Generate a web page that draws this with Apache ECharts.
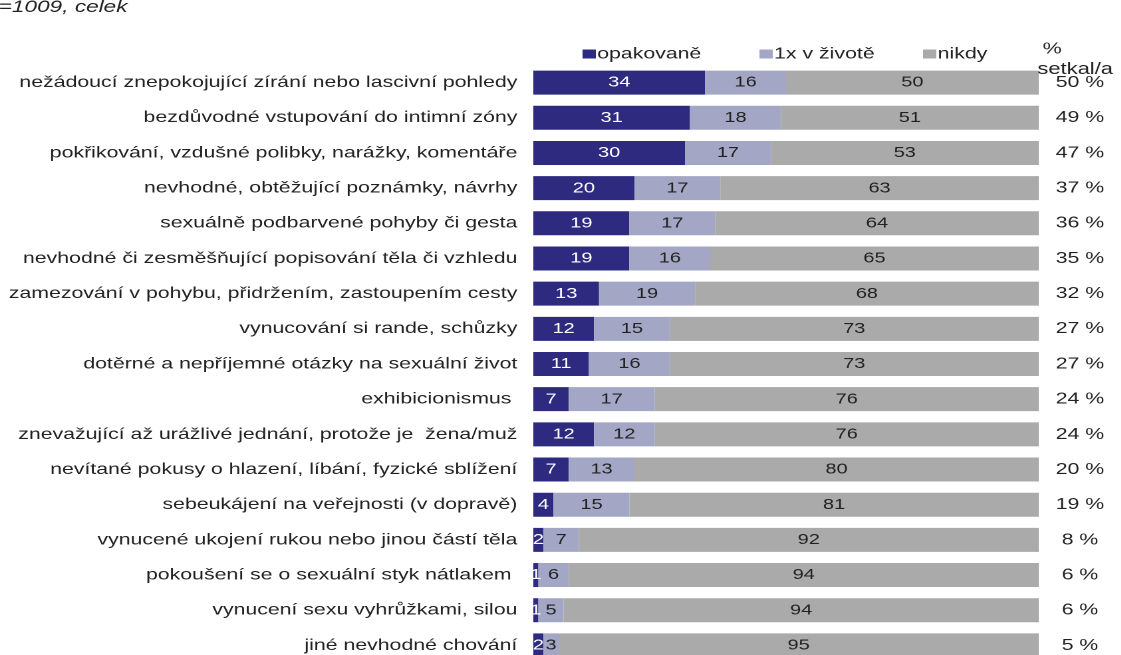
<!DOCTYPE html>
<html>
<head>
<meta charset="utf-8">
<script src="https://cdn.jsdelivr.net/npm/echarts@6/dist/echarts.min.js"></script>
<style>
  html, body { margin: 0; padding: 0; background: #fff; overflow: hidden; }
  /* the original graphic is stretched horizontally, so the chart is drawn narrow and widened */
  #main { width: 843px; height: 700px; transform: scaleX(1.33); transform-origin: 0 0; }
</style>
</head>
<body>
<div id="main"></div>
<script>
var categories = [
  'nežádoucí znepokojující zírání nebo lascivní pohledy',
  'bezdůvodné vstupování do intimní zóny',
  'pokřikování, vzdušné polibky, narážky, komentáře',
  'nevhodné, obtěžující poznámky, návrhy',
  'sexuálně podbarvené pohyby či gesta',
  'nevhodné či zesměšňující popisování těla či vzhledu',
  'zamezování v pohybu, přidržením, zastoupením cesty',
  'vynucování si rande, schůzky',
  'dotěrné a nepříjemné otázky na sexuální život',
  'exhibicionismus ',
  'znevažující až urážlivé jednání, protože je  žena/muž',
  'nevítané pokusy o hlazení, líbání, fyzické sblížení',
  'sebeukájení na veřejnosti (v dopravě)',
  'vynucené ukojení rukou nebo jinou částí těla',
  'pokoušení se o sexuální styk nátlakem ',
  'vynucení sexu vyhrůžkami, silou',
  'jiné nevhodné chování'
];
var opakovane = [34, 31, 30, 20, 19, 19, 13, 12, 11, 7, 12, 7, 4, 2, 1, 1, 2];
var jednou    = [16, 18, 17, 17, 17, 16, 19, 15, 16, 17, 12, 13, 15, 7, 6, 5, 3];
var nikdy     = [50, 51, 53, 63, 64, 65, 68, 73, 73, 76, 76, 80, 81, 92, 94, 94, 95];
var setkal    = [50, 49, 47, 37, 36, 35, 32, 27, 27, 24, 24, 20, 19, 8, 6, 6, 5];

var fontFam = '"Liberation Sans", Arial, sans-serif';
var myChart = echarts.init(document.getElementById('main'), null, { devicePixelRatio: 2 });

function barSeries(name, data, color, textColor) {
  return {
    name: name,
    type: 'bar',
    stack: 'total',
    barWidth: 24,
    data: data,
    itemStyle: { color: color },
    label: {
      show: true,
      position: 'inside',
      color: textColor,
      fontSize: 15,
      fontFamily: fontFam
    }
  };
}

var legendBase = {
  top: 41,
  icon: 'rect',
  itemWidth: 10,
  itemHeight: 9,
  itemGap: 5,
  textStyle: { fontSize: 16, color: '#222', fontFamily: fontFam, padding: [0, 0, 0, -4] }
};

var option = {
  animation: false,
  title: [
    { text: '=1009, celek', left: -1, top: -1, padding: 0,
      textStyle: { fontSize: 17, fontStyle: 'italic', fontWeight: 'normal', color: '#222', fontFamily: fontFam } },
    { text: '%', left: 779, top: 36,
      textStyle: { fontSize: 16, fontWeight: 'normal', color: '#222', fontFamily: fontFam } },
    { text: 'setkal/a', left: 775, top: 56,
      textStyle: { fontSize: 16.5, fontWeight: 'normal', color: '#222', fontFamily: fontFam } }
  ],
  legend: [
    Object.assign({ left: 433, data: ['opakovaně'] }, legendBase),
    Object.assign({ left: 566, data: ['1x v životě'] }, legendBase),
    Object.assign({ left: 689, data: ['nikdy'] }, legendBase)
  ],
  grid: { left: 401, width: 380, top: 65, height: 598 },
  xAxis: { type: 'value', min: 0, max: 100, show: false },
  yAxis: [
    {
      type: 'category',
      inverse: true,
      data: categories,
      axisLine: { show: false },
      axisTick: { show: false },
      axisLabel: { margin: 12, fontSize: 16, color: '#222', fontFamily: fontFam }
    },
    {
      type: 'category',
      inverse: true,
      position: 'right',
      data: setkal.map(function (v) { return v + ' %'; }),
      axisLine: { show: false },
      axisTick: { show: false },
      axisLabel: { margin: 31, align: 'center', fontSize: 16, color: '#222', fontFamily: fontFam }
    }
  ],
  series: [
    barSeries('opakovaně', opakovane, '#2e2a80', '#fff'),
    barSeries('1x v životě', jednou, '#a3a7c5', '#222'),
    barSeries('nikdy', nikdy, '#aaaaaa', '#222')
  ]
};
myChart.setOption(option);
</script>
</body>
</html>
